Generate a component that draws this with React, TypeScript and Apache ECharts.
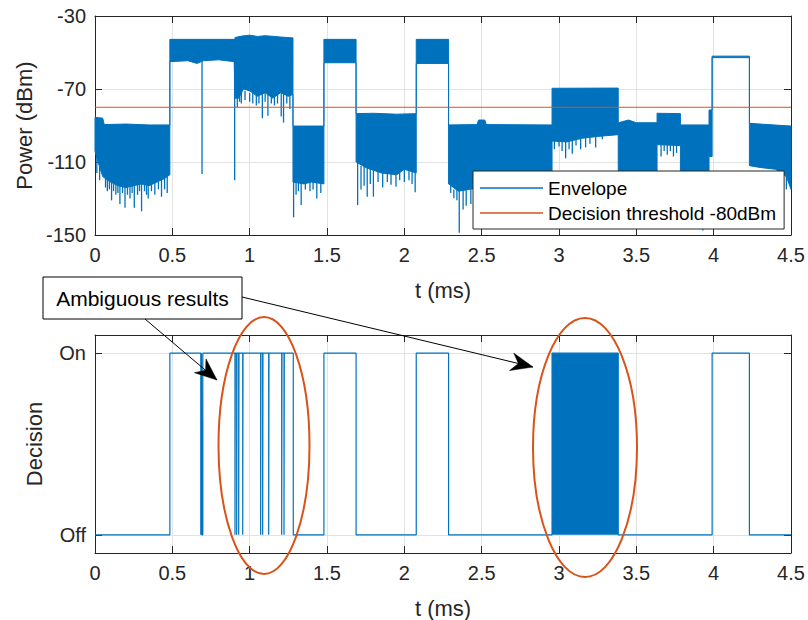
import { useEffect, useRef } from 'react';
import * as echarts from 'echarts';

// ---------- data ----------
const xMin = 0;
const xMax = 4.5;
const xInterval = 0.5;
const powerTicks = [-150, -110, -70, -30];
const decisionTicks = [0, 1];
const decisionTickLabels = ['Off', 'On'];
const thresholdDbm = -80;

// upper edge of the dense envelope trace [t (ms), dBm]
const envUpper: number[][] = [
  [0, -85.5], [0.05, -86], [0.06, -89.5], [0.2, -89.2], [0.35, -89.7], [0.484, -89.7],
  [0.484, -42.8], [0.905, -42.8],
  [0.905, -41.8], [0.95, -41], [1.0, -40.5], [1.05, -41.2], [1.1, -40.8], [1.2, -41.5], [1.28, -42],
  [1.28, -90.3], [1.48, -90.3],
  [1.48, -42.8], [1.688, -42.8],
  [1.688, -83.5], [1.8, -83.3], [1.95, -83.8], [2.077, -83.5],
  [2.077, -42.8], [2.286, -42.8],
  [2.286, -89.7], [2.47, -89.5], [2.48, -87], [2.52, -87], [2.53, -89.5], [2.955, -89.7],
  [2.955, -69.6], [3.383, -69.5],
  [3.383, -88.5], [3.45, -87], [3.5, -88.5], [3.634, -88.5],
  [3.634, -83.3], [3.785, -83.5],
  [3.785, -89.7], [3.97, -89.7], [3.97, -81.5], [3.99, -81.5],
  [3.99, -52.0], [4.231, -52.0],
  [4.231, -88.8], [4.35, -89.5], [4.5, -90.3],
];

// lower edge of the dense envelope trace [t (ms), dBm]
const envLower: number[][] = [
  [0, -104], [0.02, -110], [0.05, -118], [0.1, -121], [0.15, -123], [0.2, -124], [0.25, -123],
  [0.3, -122], [0.35, -123], [0.4, -121], [0.45, -119], [0.484, -117],
  [0.484, -55], [0.6, -54.5], [0.66, -56], [0.7, -54.5], [0.8, -54], [0.9, -55],
  [0.905, -75], [0.93, -75], [0.96, -70], [1.0, -71], [1.05, -74], [1.1, -72], [1.15, -75],
  [1.2, -72], [1.25, -74], [1.28, -73],
  [1.28, -121], [1.35, -122], [1.4, -121], [1.48, -122],
  [1.48, -55.6], [1.688, -55.6],
  [1.688, -110], [1.75, -113], [1.85, -116], [1.95, -117], [2.0, -114], [2.077, -116],
  [2.077, -56], [2.286, -56],
  [2.286, -122], [2.35, -126], [2.42, -125], [2.6, -123], [2.8, -122], [2.955, -121],
  [2.955, -98.5], [3.05, -99], [3.15, -97], [3.25, -96], [3.383, -95],
  [3.383, -122], [3.634, -122],
  [3.634, -100.5], [3.785, -101],
  [3.785, -122], [3.97, -122], [3.97, -107], [3.99, -107],
  [3.99, -52.8], [4.231, -52.8],
  [4.231, -112], [4.3, -113], [4.4, -114], [4.47, -118], [4.5, -125],
];

// isolated deep fades of the envelope [t (ms), from dBm, to dBm]
const envSpikes: number[][] = [
  [0.012, -106, -116], [0.03, -108, -120], [0.054, -110, -115], [0.068, -115, -124],
  [0.08, -115, -126], [0.093, -118, -125], [0.107, -118, -131], [0.12, -118, -126],
  [0.135, -118, -128], [0.148, -118, -127], [0.161, -118, -133], [0.178, -118, -127],
  [0.194, -118, -135], [0.21, -118, -128], [0.226, -118, -130], [0.24, -118, -127],
  [0.254, -118, -135], [0.275, -118, -128], [0.288, -118, -126], [0.301, -118, -137],
  [0.32, -118, -126], [0.333, -118, -128], [0.344, -118, -130], [0.365, -118, -126],
  [0.387, -118, -128], [0.41, -118, -125], [0.43, -118, -129], [0.45, -117, -125],
  [0.467, -115, -127],
  [0.692, -50, -116.6], [0.903, -50, -120],
  [0.92, -72, -80], [0.935, -72, -77], [0.946, -72, -78], [0.97, -71, -76], [1.0, -72, -77],
  [1.02, -72, -78], [1.043, -72, -79], [1.06, -72, -78], [1.082, -72, -86], [1.1, -72, -77],
  [1.118, -72, -84.6], [1.14, -72, -78], [1.16, -72, -79], [1.18, -72, -78], [1.204, -72, -85],
  [1.219, -72, -88.4], [1.24, -72, -78], [1.26, -72, -81],
  [1.284, -120, -140.3], [1.3, -120, -128], [1.315, -120, -126], [1.333, -120, -133.6],
  [1.36, -120, -125], [1.39, -120, -126], [1.41, -120, -125], [1.434, -120, -130],
  [1.46, -120, -127],
  [1.698, -110, -133.6], [1.72, -112, -125], [1.74, -112, -123], [1.76, -113, -129],
  [1.78, -113, -122], [1.8, -113, -129], [1.83, -114, -121], [1.86, -115, -124],
  [1.89, -115, -121], [1.914, -115, -122.5], [1.946, -115, -123.5], [1.97, -115, -120],
  [2.0, -114, -121], [2.03, -114, -120], [2.05, -114, -122], [2.07, -115, -126.6],
  [2.3, -122, -127], [2.32, -125, -129.8], [2.34, -125, -131], [2.355, -125, -148.7],
  [2.38, -125, -136], [2.4, -125, -134], [2.43, -125, -133],
  [2.97, -97, -103], [3.0, -97, -101.5], [3.02, -97, -104], [3.043, -97, -108],
  [3.065, -97, -103], [3.086, -97, -105.5], [3.11, -97, -101], [3.14, -96, -103],
  [3.172, -96, -102], [3.2, -96, -100], [3.237, -96, -102], [3.28, -95, -97.5],
  [3.66, -100, -107], [3.68, -100, -104], [3.7, -100, -106], [3.72, -100, -104],
  [3.74, -100, -107], [3.76, -100, -105],
  [3.93, -122, -147.6],
  [4.47, -115, -125],
];

// decision (0 = Off, 1 = On), value holds from each time until the next
const decisionT = [
  0, 0.484, 0.684, 0.688, 0.691, 0.697,
  0.905, 0.907, 0.916, 0.918, 0.929, 0.931, 0.955, 0.957,
  1.071, 1.073, 1.084, 1.086, 1.123, 1.125, 1.207, 1.209, 1.222, 1.224,
  1.282, 1.48, 1.688, 2.077, 2.286, 2.955, 3.383, 3.99, 4.231, 4.5,
];
const decisionV = [
  0, 1, 0, 1, 0, 1,
  0, 1, 0, 1, 0, 1, 0, 1,
  0, 1, 0, 1, 0, 1, 0, 1, 0, 1,
  0, 1, 0, 1, 0, 1, 0, 1, 0, 0,
];
// span where the decision toggles so fast it renders as a solid block [t start, t end]
const decisionBlocks: number[][] = [[2.955, 3.383]];

const legendNames = ['Envelope', 'Decision threshold -80dBm'];
const annotationText = 'Ambiguous results';

// ---------- style ----------
const BLUE = '#0072BD';
const RED = '#D95319';
const AXIS = '#262626';
const GRID = '#e2e2e2';
const FONT = '"Liberation Sans", Arial, Helvetica, sans-serif';

function arrowHead(x1: number, y1: number, x2: number, y2: number) {
  const dx = x2 - x1;
  const dy = y2 - y1;
  const len = Math.sqrt(dx * dx + dy * dy);
  const ux = dx / len;
  const uy = dy / len;
  const px = -uy;
  const py = ux;
  const L = 22;
  const W = 9;
  const N = 15;
  return [
    [x2, y2],
    [x2 - ux * L + px * W, y2 - uy * L + py * W],
    [x2 - ux * N, y2 - uy * N],
    [x2 - ux * L - px * W, y2 - uy * L - py * W],
  ];
}

export default function App() {
  const ref = useRef<HTMLDivElement>(null);

  useEffect(() => {
    if (!ref.current) return;
    const chart = echarts.init(ref.current, undefined, { renderer: 'svg' });

    const xAxisFor = (gridIndex: number, position: string, main: boolean) => ({
      type: 'value',
      gridIndex,
      position,
      min: xMin,
      max: xMax,
      interval: xInterval,
      axisLine: { show: true, onZero: false, lineStyle: { color: AXIS, width: 1 } },
      axisTick: { show: true, inside: true, length: 7, lineStyle: { color: AXIS } },
      axisLabel: {
        show: main,
        color: AXIS,
        fontSize: 20,
        fontFamily: FONT,
        margin: 10,
        formatter: (v: number) => String(v),
      },
      splitLine: { show: main, lineStyle: { color: GRID, width: 1 } },
      name: main ? 't (ms)' : '',
      nameLocation: 'middle',
      nameGap: 44,
      nameTextStyle: { color: AXIS, fontSize: 22, fontFamily: FONT },
    });

    const yAxisFor = (
      gridIndex: number,
      position: string,
      main: boolean,
      min: number,
      max: number,
      ticks: number[],
      name: string,
      nameGap: number,
      formatter: (v: number) => string,
    ) => ({
      type: 'value',
      gridIndex,
      position,
      min,
      max,
      axisLine: { show: true, onZero: false, lineStyle: { color: AXIS, width: 1 } },
      axisTick: { show: true, inside: true, length: 7, customValues: ticks, lineStyle: { color: AXIS } },
      axisLabel: {
        show: main,
        customValues: ticks,
        color: AXIS,
        fontSize: 20,
        fontFamily: FONT,
        margin: 9,
        formatter,
      },
      splitLine: { show: main, lineStyle: { color: GRID, width: 1 } },
      name: main ? name : '',
      nameLocation: 'middle',
      nameGap,
      nameTextStyle: { color: AXIS, fontSize: 22, fontFamily: FONT },
    });

    const decisionFmt = (v: number) => {
      const i = decisionTicks.indexOf(Math.round(v));
      return i >= 0 ? decisionTickLabels[i] : '';
    };

    const ellipse1 = { cx: 264, cy: 445.5, rx: 45.5, ry: 128.5 };
    const ellipse2 = { cx: 585, cy: 447.5, rx: 52, ry: 129.5 };
    const box = { x: 43, y: 277, width: 199, height: 42 };
    const arrows = [
      [145, 319, 217, 380],
      [242, 297, 533, 367],
    ];

    const graphics: any[] = [
      {
        type: 'ellipse',
        shape: ellipse1,
        style: { fill: 'none', stroke: RED, lineWidth: 2 },
        z: 100,
      },
      {
        type: 'ellipse',
        shape: ellipse2,
        style: { fill: 'none', stroke: RED, lineWidth: 2 },
        z: 100,
      },
      {
        type: 'rect',
        shape: box,
        style: { fill: '#fff', stroke: '#000', lineWidth: 1 },
        z: 100,
      },
      {
        type: 'text',
        x: box.x + box.width / 2,
        y: box.y + box.height / 2,
        style: {
          text: annotationText,
          fill: '#000',
          fontSize: 21,
          fontFamily: FONT,
          align: 'center',
          verticalAlign: 'middle',
        },
        z: 101,
      },
    ];
    arrows.forEach(([x1, y1, x2, y2]) => {
      graphics.push({
        type: 'line',
        shape: { x1, y1, x2, y2 },
        style: { stroke: '#000', lineWidth: 1 },
        z: 100,
      });
      graphics.push({
        type: 'polygon',
        shape: { points: arrowHead(x1, y1, x2, y2) },
        style: { fill: '#000', stroke: '#000', lineWidth: 0.5 },
        z: 100,
      });
    });

    chart.setOption({
      animation: false,
      backgroundColor: '#fff',
      textStyle: { fontFamily: FONT },
      grid: [
        { left: 95, top: 16, width: 696, height: 219, show: false },
        { left: 95, top: 335, width: 696, height: 219, show: false },
      ],
      xAxis: [
        xAxisFor(0, 'bottom', true),
        xAxisFor(0, 'top', false),
        xAxisFor(1, 'bottom', true),
        xAxisFor(1, 'top', false),
      ],
      yAxis: [
        yAxisFor(0, 'left', true, -150, -30, powerTicks, 'Power (dBm)', 56, (v: number) => String(v)),
        yAxisFor(0, 'right', false, -150, -30, powerTicks, '', 0, (v: number) => String(v)),
        yAxisFor(1, 'left', true, -0.1, 1.1, decisionTicks, 'Decision', 50, decisionFmt),
        yAxisFor(1, 'right', false, -0.1, 1.1, decisionTicks, '', 0, decisionFmt),
      ],
      legend: {
        data: legendNames,
        left: 473,
        top: 171,
        orient: 'vertical',
        icon: 'rect',
        backgroundColor: '#fff',
        borderColor: AXIS,
        borderWidth: 1,
        borderRadius: 0,
        padding: [7, 8, 6, 7],
        itemWidth: 63,
        itemHeight: 1.5,
        itemGap: 5,
        selectedMode: false,
        textStyle: { fontSize: 19, color: '#000', fontFamily: FONT, lineHeight: 20, height: 20 },
        z: 20,
      },
      series: [
        {
          type: 'custom',
          name: 'envBand',
          xAxisIndex: 0,
          yAxisIndex: 0,
          data: [[0, -90]],
          z: 2,
          renderItem: (_p: any, api: any) => {
            const pts = envUpper
              .map((p) => api.coord(p))
              .concat(envLower.slice().reverse().map((p) => api.coord(p)));
            return {
              type: 'polygon',
              shape: { points: pts },
              style: { fill: BLUE, stroke: BLUE, lineWidth: 1 },
            };
          },
        },
        {
          type: 'custom',
          name: 'envSpikes',
          xAxisIndex: 0,
          yAxisIndex: 0,
          data: envSpikes,
          encode: { x: 0, y: [1, 2] },
          z: 2,
          renderItem: (_p: any, api: any) => {
            const a = api.coord([api.value(0), api.value(1)]);
            const b = api.coord([api.value(0), api.value(2)]);
            return {
              type: 'line',
              shape: { x1: a[0], y1: a[1], x2: b[0], y2: b[1] },
              style: { stroke: BLUE, lineWidth: 1.3 },
            };
          },
        },
        {
          type: 'line',
          name: legendNames[0],
          xAxisIndex: 0,
          yAxisIndex: 0,
          data: [],
          symbol: 'none',
          lineStyle: { color: BLUE, width: 1.5 },
          itemStyle: { color: BLUE },
        },
        {
          type: 'line',
          name: legendNames[1],
          xAxisIndex: 0,
          yAxisIndex: 0,
          data: [[xMin, thresholdDbm], [xMax, thresholdDbm]],
          symbol: 'none',
          lineStyle: { color: RED, width: 1 },
          itemStyle: { color: RED },
          z: 3,
        },
        {
          type: 'line',
          name: 'decision',
          xAxisIndex: 2,
          yAxisIndex: 2,
          step: 'end',
          data: decisionT.map((t, i) => [t, decisionV[i]]),
          symbol: 'none',
          lineStyle: { color: BLUE, width: 1.2 },
          itemStyle: { color: BLUE },
          z: 2,
        },
        {
          type: 'custom',
          name: 'decisionBlock',
          xAxisIndex: 2,
          yAxisIndex: 2,
          data: decisionBlocks,
          encode: { x: [0, 1] },
          z: 2,
          renderItem: (_p: any, api: any) => {
            const a = api.coord([api.value(0), decisionTicks[1]]);
            const b = api.coord([api.value(1), decisionTicks[0]]);
            return {
              type: 'rect',
              shape: { x: a[0], y: a[1], width: b[0] - a[0], height: b[1] - a[1] },
              style: { fill: BLUE },
            };
          },
        },
      ],
      graphic: graphics,
    });

    return () => {
      chart.dispose();
    };
  }, []);

  return (
    <div
      ref={ref}
      style={{ position: 'fixed', left: 0, top: 0, width: 808, height: 620, background: '#fff' }}
    />
  );
}
